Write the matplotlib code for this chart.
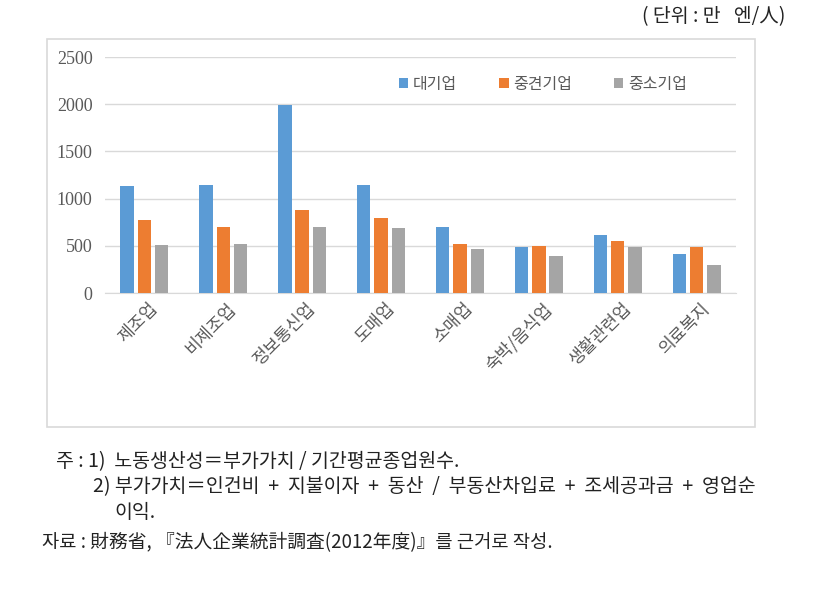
import matplotlib.pyplot as plt
import numpy as np
from matplotlib.patches import Rectangle

plt.rcParams['font.family'] = ['Noto Sans CJK KR', 'DejaVu Sans']

# data (만 엔/人)
categories = ["제조업", "비제조업", "정보통신업", "도매업", "소매업", "숙박/음식업", "생활관련업", "의료복지"]
series_names = ["대기업", "중견기업", "중소기업"]
large = [1130, 1140, 1990, 1140, 700, 485, 615, 415]
middle = [770, 695, 880, 790, 522, 500, 555, 490]
small = [508, 522, 703, 692, 470, 395, 485, 300]
yticks = [0, 500, 1000, 1500, 2000, 2500]

colors = ['#5b9bd5', '#ed7d31', '#a5a5a5']
txt_gray = '#595959'
note_col = '#222222'

fig = plt.figure(figsize=(8.3, 5.92), dpi=100)
fig.patch.set_facecolor('white')

# outer chart frame
fig.add_artist(Rectangle((47 / 830, 1 - 427 / 592), (755 - 47) / 830, (427 - 39) / 592,
                         transform=fig.transFigure, fill=False, edgecolor='#d9d9d9', lw=1.2))

ax = fig.add_axes([105 / 830, 1 - 293 / 592, (736 - 105) / 830, (293 - 57) / 592])

x = np.arange(len(categories))
w = 0.17
step = 0.22
for i, vals in enumerate([large, middle, small]):
    ax.bar(x + (i - 1) * step, vals, width=w, color=colors[i], label=series_names[i], zorder=3)

ax.set_xlim(-0.5, len(categories) - 0.5)
ax.set_ylim(0, 2500)
ax.set_yticks(yticks)
ax.set_yticklabels([str(v) for v in yticks], family='Liberation Serif', fontsize=13, color=txt_gray)
ax.yaxis.grid(True, color='#d9d9d9', lw=1, zorder=0)
ax.tick_params(axis='y', length=0, pad=9)
ax.tick_params(axis='x', length=0, pad=5)
for s in ['top', 'right', 'left']:
    ax.spines[s].set_visible(False)
ax.spines['bottom'].set_color('#d9d9d9')

ax.set_xticks(x + 0.05)
ax.set_xticklabels(categories, rotation=45, ha='right', va='top', rotation_mode='anchor',
                   fontsize=12.5, color=txt_gray)

leg = fig.legend(loc='center', bbox_to_anchor=(543 / 830, 1 - 84 / 592), ncol=3, frameon=False,
                 fontsize=11.5, handlelength=0.6, handleheight=0.6, handletextpad=0.3,
                 columnspacing=2.6, labelcolor=txt_gray)

# notes
fig.text(785 / 830, 1 - 17 / 592, "( 단위 : 만   엔/人)", ha='right', va='center', fontsize=14, color=note_col)
fig.text(56 / 830, 1 - 462 / 592, "주 : 1)  노동생산성＝부가가치 / 기간평균종업원수.", ha='left', va='center',
         fontsize=14, color=note_col)
fig.text(93 / 830, 1 - 487 / 592, "2) 부가가치＝인건비  +  지불이자  +  동산  /  부동산차입료  +  조세공과금  +  영업순",
         ha='left', va='center', fontsize=14, color=note_col)
fig.text(114 / 830, 1 - 513 / 592, "이익.", ha='left', va='center', fontsize=14, color=note_col)
fig.text(42 / 830, 1 - 543 / 592, "자료 : 財務省, 『法人企業統計調査(2012年度)』를 근거로 작성.", ha='left', va='center',
         fontsize=13.5, color=note_col)

fig.savefig('out.png', dpi=100)
